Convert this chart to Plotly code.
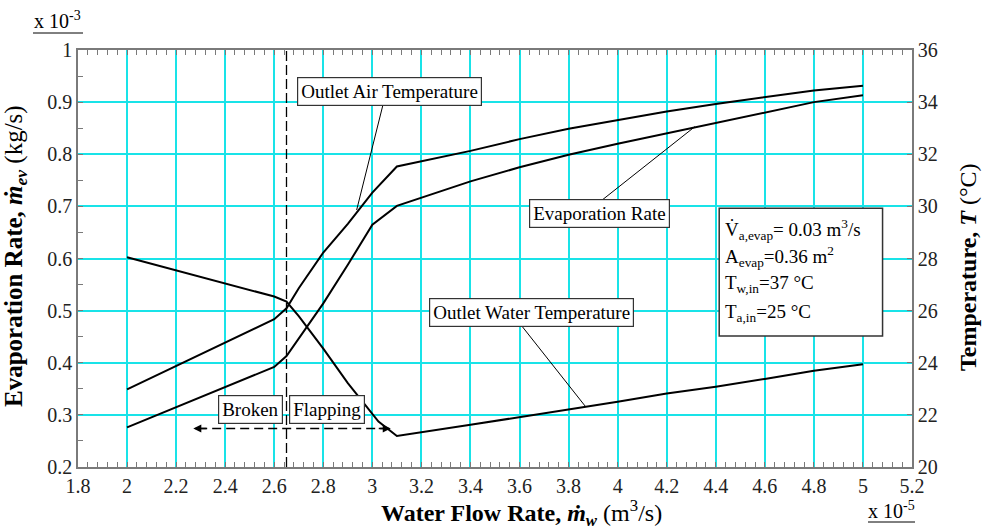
import plotly.graph_objects as go

# Water flow rate (x 10^-5 m^3/s)
evap_x = [2.0, 2.6, 2.65, 2.7, 2.8, 2.9, 3.0, 3.1, 3.4, 3.6, 3.8, 4.0, 4.2, 4.4, 4.6, 4.8, 5.0]
# Evaporation rate (x 10^-3 kg/s)
evap_rate = [0.276, 0.392, 0.413, 0.447, 0.514, 0.588, 0.665, 0.701, 0.748, 0.775, 0.799,
             0.820, 0.840, 0.860, 0.880, 0.900, 0.913]
# Outlet air temperature (°C)
air_x = [2.0, 2.6, 2.65, 2.7, 2.8, 2.9, 3.0, 3.1, 3.4, 3.6, 3.8, 4.0, 4.2, 4.4, 4.6, 4.8, 5.0]
air_temp = [22.98, 25.67, 26.09, 26.86, 28.23, 29.33, 30.53, 31.53, 32.13, 32.58, 32.98,
            33.32, 33.64, 33.93, 34.19, 34.45, 34.63]
# Outlet water temperature (°C)
water_x = [2.0, 2.6, 2.65, 2.7, 2.8, 2.9, 3.025, 3.1, 3.4, 3.6, 3.8, 4.0, 4.2, 4.4, 4.6, 4.8, 5.0]
water_temp = [28.05, 26.54, 26.35, 25.79, 24.54, 23.22, 21.74, 21.19, 21.62, 21.91, 22.2,
              22.5, 22.82, 23.08, 23.38, 23.69, 23.94]

regime_boundary = 2.65
regime_labels = ["Broken", "Flapping"]
param_lines = ["V\u0307<sub>a,evap</sub>= 0.03 m<sup>3</sup>/s",
               "A<sub>evap</sub>=0.36 m<sup>2</sup>",
               "T<sub>w,in</sub>=37 °C",
               "T<sub>a,in</sub>=25 °C"]

FONT = "Liberation Serif"
GRID = "#19E3E8"
AX = "#7a7a7a"

W, H = 986, 530
ML, MR, MT, MB = 78, 74, 50, 63
PW, PH = W - ML - MR, H - MT - MB


def px(xp):
    return (xp - ML) / PW


def py(yp):
    return (H - MB - yp) / PH


fig = go.Figure()
fig.add_trace(go.Scatter(x=evap_x, y=evap_rate, mode="lines", name="Evaporation Rate",
                         line=dict(color="black", width=2), showlegend=False))
fig.add_trace(go.Scatter(x=air_x, y=air_temp, mode="lines", name="Outlet Air Temperature",
                         line=dict(color="black", width=2), yaxis="y2", showlegend=False))
fig.add_trace(go.Scatter(x=water_x, y=water_temp, mode="lines", name="Outlet Water Temperature",
                         line=dict(color="black", width=2), yaxis="y2", showlegend=False))

TICKF = dict(size=20, family=FONT, color="#222")
fig.update_layout(
    width=W, height=H,
    margin=dict(l=ML, r=MR, t=MT, b=MB, pad=0),
    paper_bgcolor="white", plot_bgcolor="white",
    font=dict(family=FONT, size=18, color="black"),
    xaxis=dict(range=[1.8, 5.2], dtick=0.2, tick0=1.8, showgrid=True, gridcolor=GRID, gridwidth=1.5,
               zeroline=False, showline=True, linecolor=AX, linewidth=1.5, mirror="allticks",
               ticks="inside", ticklen=5, tickcolor=AX, tickfont=TICKF,
               minor=dict(dtick=0.04, ticks="inside", ticklen=5, tickcolor=AX, showgrid=False)),
    yaxis=dict(range=[0.2, 1.0], dtick=0.1, showgrid=True, gridcolor=GRID, gridwidth=1.5,
               zeroline=False, showline=True, linecolor=AX, linewidth=1.5, mirror=True,
               ticks="inside", ticklen=5, tickcolor=AX, tickfont=TICKF,
               minor=dict(dtick=0.05, ticks="inside", ticklen=5, tickcolor=AX, showgrid=False)),
    yaxis2=dict(range=[20, 36], dtick=2, overlaying="y", side="right", showgrid=False,
                zeroline=False, showline=True, linecolor=AX, linewidth=1.5,
                ticks="inside", ticklen=5, tickcolor=AX, tickfont=TICKF),
)

shapes = []
# regime boundary
shapes.append(dict(type="line", xref="x", yref="y", x0=regime_boundary, x1=regime_boundary,
                   y0=0.2, y1=1.0, line=dict(color="black", width=1.3, dash="10px,4px")))
# double arrow line
shapes.append(dict(type="line", xref="x", yref="y", x0=2.29, x1=3.05, y0=0.274, y1=0.274,
                   line=dict(color="black", width=1.6, dash="9px,5px")))
# leader lines
shapes.append(dict(type="line", xref="x", yref="y", x0=3.045, y0=0.898, x1=2.936, y1=0.693,
                   line=dict(color="black", width=1)))
shapes.append(dict(type="line", xref="x", yref="y", x0=3.939, y0=0.713, x1=4.315, y1=0.853,
                   line=dict(color="black", width=1)))
shapes.append(dict(type="line", xref="x", yref="y", x0=3.611, y0=0.4695, x1=3.869, y1=0.316,
                   line=dict(color="black", width=1)))
# parameter box
shapes.append(dict(type="rect", xref="x", yref="y", x0=4.414, x1=5.080, y0=0.4514, y1=0.6966,
                   line=dict(color="#333333", width=1.5), fillcolor="white", layer="above"))
# exponent underlines
shapes.append(dict(type="line", xref="paper", yref="paper", x0=px(33), x1=px(83), y0=py(33), y1=py(33),
                   line=dict(color="black", width=1)))
shapes.append(dict(type="line", xref="paper", yref="paper", x0=px(868), x1=px(915), y0=py(522), y1=py(522),
                   line=dict(color="black", width=1)))
fig.update_layout(shapes=shapes)

ann = []
box = dict(bordercolor="#333333", borderwidth=1.2, borderpad=3, bgcolor="white",
           showarrow=False, xref="x", yref="y", xanchor="center", yanchor="middle",
           font=dict(family=FONT, size=19))
ann.append(dict(x=3.07, y=0.92, text="Outlet Air Temperature", **box))
ann.append(dict(x=3.928, y=0.686, text="Evaporation Rate", **box))
ann.append(dict(x=3.65, y=0.4958, text="Outlet Water Temperature", **box))
ann.append(dict(x=2.505, y=0.311, text=regime_labels[0], **box))
ann.append(dict(x=2.815, y=0.311, text=regime_labels[1], **box))

# arrow heads
ann.append(dict(x=2.27, y=0.274, ax=2.33, ay=0.274, xref="x", yref="y", axref="x", ayref="y",
                text="", showarrow=True, arrowhead=2, arrowsize=1, arrowwidth=1.6, arrowcolor="black"))
ann.append(dict(x=3.075, y=0.274, ax=3.02, ay=0.274, xref="x", yref="y", axref="x", ayref="y",
                text="", showarrow=True, arrowhead=2, arrowsize=1, arrowwidth=1.6, arrowcolor="black"))

# parameter lines
for yv, t in zip([0.6549, 0.6036, 0.5507, 0.4962], param_lines):
    ann.append(dict(x=4.431, y=yv, text=t, xref="x", yref="y", xanchor="left", yanchor="middle",
                    showarrow=False, font=dict(family=FONT, size=19)))

TITLEF = dict(family=FONT, size=24, color="black")
# axis titles
ann.append(dict(x=px(521), y=py(513), xref="paper", yref="paper", showarrow=False,
                xanchor="center", yanchor="middle",
                text="<b>Water Flow Rate, <i>ṁ</i><sub><i>w</i></sub></b> (m<sup>3</sup>/s)",
                font=TITLEF))
ann.append(dict(x=px(15), y=py(256), xref="paper", yref="paper", showarrow=False, textangle=-90,
                xanchor="center", yanchor="middle",
                text="<b>Evaporation Rate, <i>ṁ</i><sub><i>ev</i></sub></b> (kg/s)",
                font=dict(family=FONT, size=25, color="black")))
ann.append(dict(x=px(968), y=py(267), xref="paper", yref="paper", showarrow=False, textangle=-90,
                xanchor="center", yanchor="middle",
                text="<b>Temperature, <i>T</i></b> (°C)",
                font=TITLEF))
# exponent labels
ann.append(dict(x=px(57.5), y=py(20), xref="paper", yref="paper", showarrow=False,
                xanchor="center", yanchor="middle",
                text="x 10<sup>-3</sup>", font=dict(family=FONT, size=20)))
ann.append(dict(x=px(891.5), y=py(510), xref="paper", yref="paper", showarrow=False,
                xanchor="center", yanchor="middle",
                text="x 10<sup>-5</sup>", font=dict(family=FONT, size=20)))

fig.update_layout(annotations=ann)
fig.write_html("out.html", post_script="document.body.style.margin='0px';",
               config={"displayModeBar": False})
